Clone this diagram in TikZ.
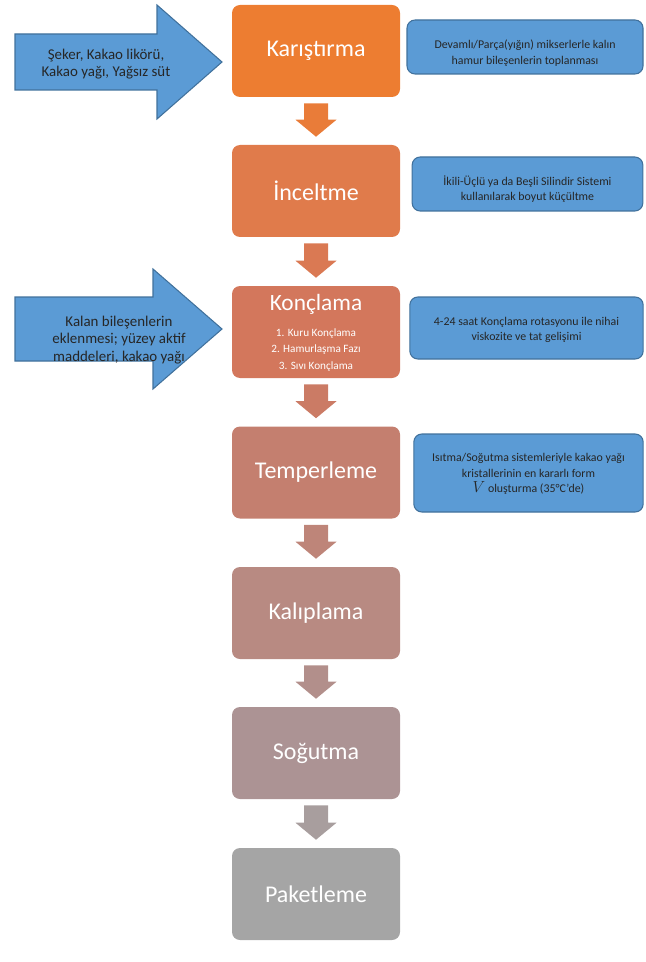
\documentclass[tikz,border=0pt]{standalone}
\usepackage{fontspec}
\setmainfont{Carlito}
\usepackage{tikz}
\usetikzlibrary{calc}
\usepackage{xcolor}

\definecolor{stageA}{HTML}{ED7D31}
\definecolor{stageB}{HTML}{E07B4B}
\definecolor{stageC}{HTML}{D3775C}
\definecolor{stageD}{HTML}{C47F6F}
\definecolor{stageE}{HTML}{B88A82}
\definecolor{stageF}{HTML}{AC9394}
\definecolor{stageG}{HTML}{A5A5A5}
\definecolor{noteblue}{HTML}{5B9BD5}
\definecolor{noteedge}{HTML}{41719C}

\begin{document}
\begin{tikzpicture}[x=0.75pt,y=-0.75pt,
  stagebox/.style={fill=#1, rounded corners=6pt, minimum width=126pt,
    minimum height=69pt, inner sep=0pt, text=white,
    font=\fontsize{18}{21}\selectfont},
  notebox/.style={fill=noteblue, draw=noteedge, line width=0.8pt,
    rounded corners=6pt, inner sep=0pt},
  notetext/.style={align=center, text=black!85,
    font=\fontsize{8.9}{11.5}\selectfont},
  feed/.style={fill=noteblue, draw=noteedge, line width=0.8pt},
  feedtext/.style={align=center, text=black!85,
    font=\fontsize{11.2}{13}\selectfont}]
\useasboundingbox (0,0) rectangle (645,962);

% main steps
\node[stagebox=stageA] (k1) at (316,51) {Karıştırma};
\node[stagebox=stageB] (k2) at (316,191) {İnceltme};
\node[stagebox=stageC] (k3) at (316,332) {};
\node[stagebox=stageD] (k4) at (316,472.5) {Temperleme};
\node[stagebox=stageE] (k5) at (316,613) {Kalıplama};
\node[stagebox=stageF] (k6) at (316,753) {Soğutma};
\node[stagebox=stageG] (k7) at (316,894) {Paketleme};
\node[text=white, font=\fontsize{17.5}{20}\selectfont] (k3title) at (316,304) {Konçlama};
\node[text=white, align=center, font=\fontsize{8.4}{12.2}\selectfont] (k3list) at (316,350)
  {1. Kuru Konçlama\\2. Hamurlaşma Fazı\\3. Sıvı Konçlama};

% arrows between steps
\foreach \a/\b/\c in {k1/k2/stageA!70!stageB, k2/k3/stageB!50!stageC,
    k3/k4/stageC!50!stageD, k4/k5/stageD!50!stageE,
    k5/k6/stageE!50!stageF, k6/k7/stageF!40!stageG}
  \fill[\c] ($(\a.south)+(-12,6)$) -- ($(\a.south)+(12,6)$)
    -- ($(\b.north)+(12,-25)$) -- ($(\b.north)+(20.5,-25)$)
    -- ($(\b.north)+(0,-8)$) -- ($(\b.north)+(-20.5,-25)$)
    -- ($(\b.north)+(-12,-25)$) -- cycle;

% inputs
\draw[feed] (15,34) -- (157,34) -- (157,5) -- (222,62) -- (157,119)
  -- (157,90) -- (15,90) -- cycle;
\node[feedtext] (inA) at (106,64) {Şeker, Kakao likörü,\\Kakao yağı, Yağsız süt};
\draw[feed] (15,297) -- (153,297) -- (153,269) -- (222,329) -- (153,389)
  -- (153,361) -- (15,361) -- cycle;
\node[feedtext] (inB) at (119,340) {Kalan bileşenlerin\\eklenmesi; yüzey aktif\\maddeleri, kakao yağı};

% notes
\node[notebox, minimum width=177pt, minimum height=40.5pt] (nA) at (525,47) {};
\node[notetext] (tA) at (525,53)
  {Devamlı/Parça(yığın) mikserlerle kalın\\hamur bileşenlerin toplanması};
\node[notebox, minimum width=173pt, minimum height=40.5pt] (nB) at (527.5,184) {};
\node[notetext] (tB) at (527.5,189)
  {İkili-Üçlü ya da Beşli Silindir Sistemi\\kullanılarak boyut küçültme};
\node[notebox, minimum width=175pt, minimum height=46.5pt] (nC) at (526.5,328) {};
\node[notetext] (tC) at (526.5,330)
  {4-24 saat Konçlama rotasyonu ile nihai\\viskozite ve tat gelişimi};
\node[notebox, minimum width=172pt, minimum height=58.5pt] (nD) at (528.5,473) {};
\node[notetext] (tD) at (528.5,474)
  {Isıtma/Soğutma sistemleriyle kakao yağı\\kristallerinin en kararlı form\\
   {\fontsize{13}{13}\selectfont$V$}\ oluşturma (35°C'de)};
\end{tikzpicture}
\end{document}
